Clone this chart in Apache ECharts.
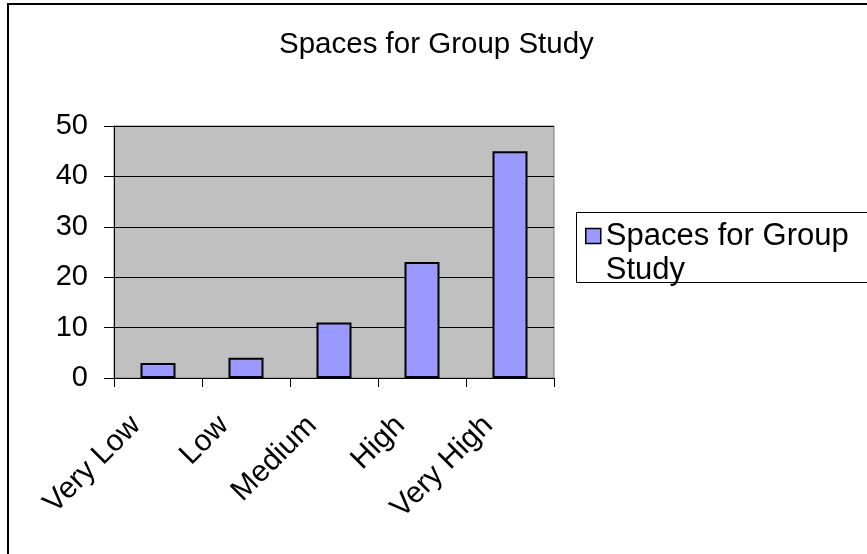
<!DOCTYPE html>
<html>
<head>
<meta charset="utf-8">
<script src="https://cdn.jsdelivr.net/npm/echarts@6/dist/echarts.min.js"></script>
<style>
html,body{margin:0;padding:0;background:#fff;}
#chart{width:867px;height:554px;}
</style>
</head>
<body>
<div id="chart"></div>
<script>
const titleText = 'Spaces for Group Study';
const categories = ['Very Low', 'Low', 'Medium', 'High', 'Very High'];
const seriesName = 'Spaces for Group Study';
const values = [3, 4, 11, 23, 45];
const yTicks = [0, 10, 20, 30, 40, 50];

const FONT = "'Liberation Sans', Arial, sans-serif";
const chart = echarts.init(document.getElementById('chart'), null, {renderer: 'canvas'});
chart.setOption({
  animation: false,
  backgroundColor: '#ffffff',
  title: {
    text: titleText,
    left: 279,
    top: 30,
    padding: 0,
    textStyle: {fontFamily: FONT, fontSize: 29.5, fontWeight: 'normal', color: '#000'}
  },
  graphic: [
    {type: 'rect', shape: {x: 8, y: 4, width: 1000, height: 1000}, style: {fill: 'none', stroke: '#000', lineWidth: 2}, silent: true},
    {type: 'rect', shape: {x: 576.5, y: 212.5, width: 400, height: 70}, style: {fill: '#fff', stroke: '#000', lineWidth: 1}, silent: true, z: 0}
  ],
  legend: {
    left: 585,
    top: 185,
    padding: 0,
    itemWidth: 15,
    itemHeight: 15,
    icon: 'rect',
    itemStyle: {borderColor: '#000', borderWidth: 1.5},
    formatter: function () { return ' \nSpaces for Group\nStudy'; },
    textStyle: {fontFamily: FONT, fontSize: 31, color: '#000', lineHeight: 34},
    data: [seriesName],
    z: 5
  },
  grid: {
    left: 114, top: 126, right: 313, bottom: 176,
    show: true, backgroundColor: '#C0C0C0', borderColor: '#808080', borderWidth: 1
  },
  xAxis: {
    type: 'category',
    data: categories,
    boundaryGap: true,
    axisLine: {lineStyle: {color: '#000', width: 1}},
    axisTick: {show: true, alignWithLabel: false, length: 9, lineStyle: {color: '#000'}},
    axisLabel: {
      rotate: 45, margin: 21, interval: 0,
      padding: [0, 31, 0, 0],
      fontFamily: FONT, fontSize: 30, color: '#000'
    },
    splitLine: {show: false}
  },
  yAxis: {
    type: 'value',
    min: yTicks[0], max: yTicks[yTicks.length - 1], interval: 10,
    axisLine: {show: true, lineStyle: {color: '#000', width: 1}},
    axisTick: {show: true, length: 10, lineStyle: {color: '#000'}},
    axisLabel: {margin: 26, fontFamily: FONT, fontSize: 29, color: '#000'},
    splitLine: {show: true, lineStyle: {color: '#000', width: 1}}
  },
  series: [{
    name: seriesName,
    type: 'bar',
    data: values,
    barWidth: 35,
    itemStyle: {color: '#9999FF', borderColor: '#000', borderWidth: 2}
  }]
});
</script>
</body>
</html>
